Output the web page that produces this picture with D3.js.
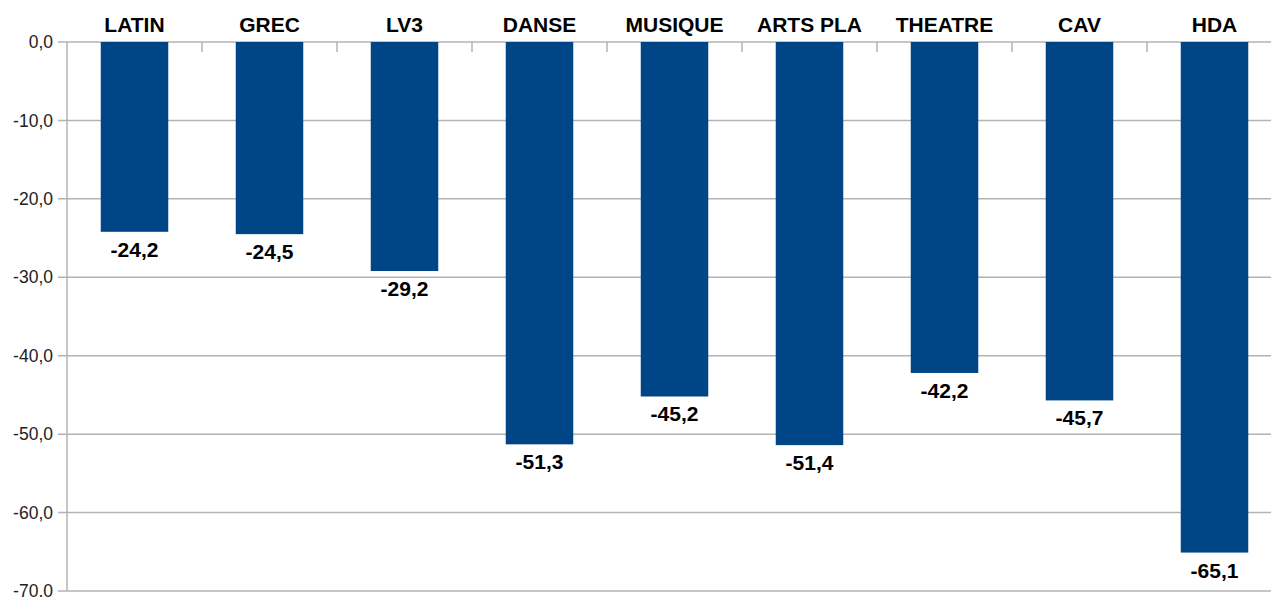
<!DOCTYPE html>
<html>
<head>
<meta charset="utf-8">
<script src="https://cdn.jsdelivr.net/npm/d3@7"></script>
<style>
  body { margin: 0; background: #fff; }
  svg { display: block; font-family: "Liberation Sans", Arial, sans-serif; }
</style>
</head>
<body>
<svg width="1271" height="597"></svg>
<script>
var categories = ["LATIN", "GREC", "LV3", "DANSE", "MUSIQUE", "ARTS PLA", "THEATRE", "CAV", "HDA"];
var values = [-24.2, -24.5, -29.2, -51.3, -45.2, -51.4, -42.2, -45.7, -65.1];
var yTicks = [0, -10, -20, -30, -40, -50, -60, -70];

var svg = d3.select("svg");
var fmt = function(v) { return d3.format(".1f")(v).replace(".", ",").replace("−", "-"); };

var x = d3.scaleBand()
    .domain(categories)
    .range([67, 1282])
    .paddingInner(0.5)
    .paddingOuter(0.25);

var y = d3.scaleLinear()
    .domain([0, -70])
    .range([42, 591]);

// gridlines
svg.append("g")
  .selectAll("line")
  .data(yTicks)
  .join("line")
    .attr("x1", 58)
    .attr("x2", 1282)
    .attr("y1", function(d) { return y(d); })
    .attr("y2", function(d) { return y(d); })
    .attr("stroke", "#b3b3b3")
    .attr("stroke-width", 1.5);

// y axis labels
svg.append("g")
  .selectAll("text")
  .data(yTicks)
  .join("text")
    .attr("x", 53)
    .attr("y", function(d) { return y(d); })
    .attr("dy", "0.35em")
    .attr("text-anchor", "end")
    .attr("font-size", 17.5)
    .attr("fill", "#222")
    .text(fmt);

// vertical axis line
svg.append("line")
    .attr("x1", 67).attr("x2", 67)
    .attr("y1", y(0)).attr("y2", y(-70))
    .attr("stroke", "#b3b3b3")
    .attr("stroke-width", 1.5);

// category boundary ticks on zero line
var step = x.step();
svg.append("g")
  .selectAll("line")
  .data(categories.slice(1))
  .join("line")
    .attr("x1", function(d) { return x(d) - (step - x.bandwidth()) / 2; })
    .attr("x2", function(d) { return x(d) - (step - x.bandwidth()) / 2; })
    .attr("y1", y(0))
    .attr("y2", y(0) + 10)
    .attr("stroke", "#b3b3b3")
    .attr("stroke-width", 1.5);

// bars
svg.append("g")
  .selectAll("rect")
  .data(values)
  .join("rect")
    .attr("x", function(d, i) { return x(categories[i]); })
    .attr("y", y(0))
    .attr("width", x.bandwidth())
    .attr("height", function(d) { return y(d) - y(0); })
    .attr("fill", "#004586");

// value labels
svg.append("g")
  .selectAll("text")
  .data(values)
  .join("text")
    .attr("x", function(d, i) { return x(categories[i]) + x.bandwidth() / 2; })
    .attr("y", function(d) { return y(d) + 25; })
    .attr("text-anchor", "middle")
    .attr("font-size", 21)
    .attr("font-weight", "bold")
    .attr("fill", "#000")
    .text(fmt);

// category labels on top
svg.append("g")
  .selectAll("text")
  .data(categories)
  .join("text")
    .attr("x", function(d) { return x(d) + x.bandwidth() / 2; })
    .attr("y", 32)
    .attr("text-anchor", "middle")
    .attr("font-size", 21)
    .attr("font-weight", "bold")
    .attr("fill", "#000")
    .text(function(d) { return d; });
</script>
</body>
</html>
